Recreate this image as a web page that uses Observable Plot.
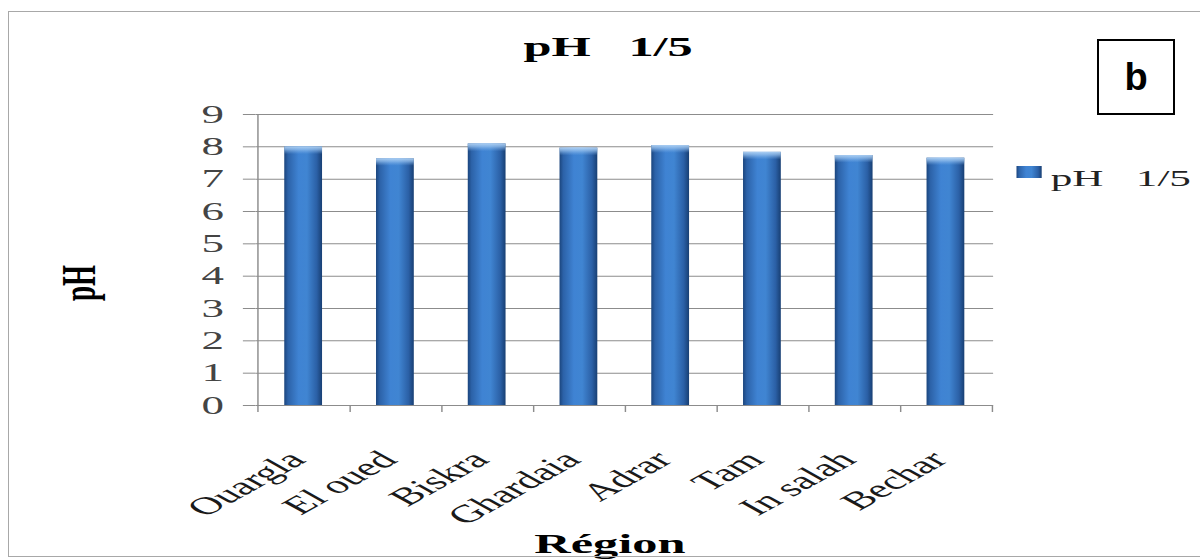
<!DOCTYPE html>
<html>
<head>
<meta charset="utf-8">
<script src="https://cdn.jsdelivr.net/npm/d3@7"></script>
<script src="https://cdn.jsdelivr.net/npm/@observablehq/plot@0.6"></script>
<style>
  html, body { margin: 0; padding: 0; background: #fff; overflow: hidden; }
  #wrap { position: relative; width: 1200px; height: 560px; overflow: hidden; background: #fff; }
  #chart { position: absolute; left: 0; top: 0; }
  #frame { position: absolute; left: 8px; top: 11px; width: 1260px; height: 546px;
           border: 1.5px solid #a8a8a8; box-sizing: border-box; pointer-events: none; }
  #panel { position: absolute; left: 1097px; top: 39px; width: 78px; height: 76px;
           border: 2px solid #000; box-sizing: border-box; background: #fff;
           font: bold 38px "Liberation Sans", Arial, sans-serif; color: #000;
           display: flex; align-items: center; justify-content: center; }
</style>
</head>
<body>
<div id="wrap">
  <div id="chart"></div>
  <div id="frame"></div>
  <div id="panel">b</div>
</div>
<script>
// Soil pH (1/5 extract) by region
const regions = ["Ouargla", "El oued", "Biskra", "Ghardaia", "Adrar", "Tam", "In salah", "Bechar"];
const phValues = [8.0, 7.63, 8.09, 7.96, 8.04, 7.83, 7.73, 7.65];
const yTicks = [0, 1, 2, 3, 4, 5, 6, 7, 8, 9];
const chartTitle = "pH   1/5";
const seriesName = "pH   1/5";
const xTitle = "Région";
const yTitle = "pH";

const rows = regions.map((region, i) => ({region, ph: phValues[i]}));

// The chart is laid out in a narrow coordinate space and stretched to 1200px wide.
const W = 667, H = 560;
const mL = 142, mR = 115, mT = 114, mB = 155;
const step = (W - mL - mR) / regions.length;
const serif = "'Liberation Serif', 'Times New Roman', serif";
const gridColor = "#8c8c8c";

const plot = Plot.plot({
  width: W,
  height: H,
  marginLeft: mL,
  marginRight: mR,
  marginTop: mT,
  marginBottom: mB,
  style: {fontFamily: serif, background: "transparent", overflow: "visible"},
  x: {domain: regions, paddingInner: 0.59, paddingOuter: 0.295, axis: null},
  y: {domain: [0, 9], axis: null},
  marks: [
    Plot.ruleY(yTicks, {stroke: gridColor, strokeWidth: 1}),
    Plot.barY(rows, {x: "region", y: "ph", fill: "url(#barBody)"}),
    Plot.barY(rows, {x: "region", y: "ph", fill: "url(#barCap)"}),
    // vertical value axis line, reaching just below the baseline
    Plot.ruleX([regions[0]], {x: d => d, y1: () => 9, y2: () => 0, insetBottom: -7, dx: -step / 2, stroke: gridColor, strokeWidth: 0.8}),
    // category separator ticks under the baseline
    Plot.ruleX(regions, {x: d => d, y1: () => 0, y2: () => 0, insetBottom: -7, dx: step / 2, stroke: gridColor, strokeWidth: 0.8}),
    Plot.axisY(yTicks, {tickSize: 7, tickPadding: 11, fontSize: 25, fill: "#444", stroke: gridColor, label: null}),
    Plot.axisX({tickSize: 0, tickPadding: 50, tickRotate: -45, textAnchor: "end", lineAnchor: "middle", dx: -4, fontSize: 25, fill: "#1a1a1a", label: null})
  ]
});

const svg = d3.select(plot);
const defs = svg.insert("defs", ":first-child");
const body = defs.append("linearGradient").attr("id", "barBody")
  .attr("x1", 0).attr("x2", 1).attr("y1", 0).attr("y2", 0);
[[0, "#1b457d"], [0.1, "#2c62a8"], [0.38, "#3f83d3"], [0.6, "#4085d2"], [0.86, "#2b60a6"], [1, "#183f73"]]
  .forEach(([o, c]) => body.append("stop").attr("offset", o).attr("stop-color", c));
const cap = defs.append("linearGradient").attr("id", "barCap")
  .attr("x1", 0).attr("x2", 0).attr("y1", 0).attr("y2", 1);
[[0, "#b3d4f5", 0.95], [0.012, "#9cc5f0", 0.7], [0.03, "#7fb2ea", 0]]
  .forEach(([o, c, a]) => cap.append("stop").attr("offset", o).attr("stop-color", c).attr("stop-opacity", a));

// chart title
svg.append("text")
  .attr("x", 338).attr("y", 56)
  .attr("text-anchor", "middle")
  .style("white-space", "pre")
  .attr("font-family", serif).attr("font-weight", "bold").attr("font-size", 28)
  .attr("fill", "#000")
  .text(chartTitle);

// legend
svg.append("rect")
  .attr("x", 565).attr("y", 166).attr("width", 14).attr("height", 12)
  .attr("fill", "url(#barBody)");
svg.append("text")
  .attr("x", 584).attr("y", 186)
  .attr("text-anchor", "start")
  .style("white-space", "pre")
  .attr("font-family", serif).attr("font-size", 24).attr("fill", "#222")
  .text(seriesName);

// axis titles
svg.append("text")
  .attr("transform", "translate(53,283) rotate(-90)")
  .attr("text-anchor", "middle")
  .attr("font-family", serif).attr("font-weight", "bold").attr("font-size", 27)
  .attr("fill", "#000")
  .text(yTitle);
svg.append("text")
  .attr("x", 339).attr("y", 553)
  .attr("text-anchor", "middle")
  .attr("font-family", serif).attr("font-weight", "bold").attr("font-size", 28)
  .attr("fill", "#000")
  .text(xTitle);

// stretch horizontally to the page width
plot.setAttribute("width", 1200);
plot.setAttribute("height", 560);
plot.setAttribute("preserveAspectRatio", "none");
plot.style.width = "1200px";
plot.style.height = "560px";
plot.style.maxWidth = "none";

document.getElementById("chart").appendChild(plot);
</script>
</body>
</html>
